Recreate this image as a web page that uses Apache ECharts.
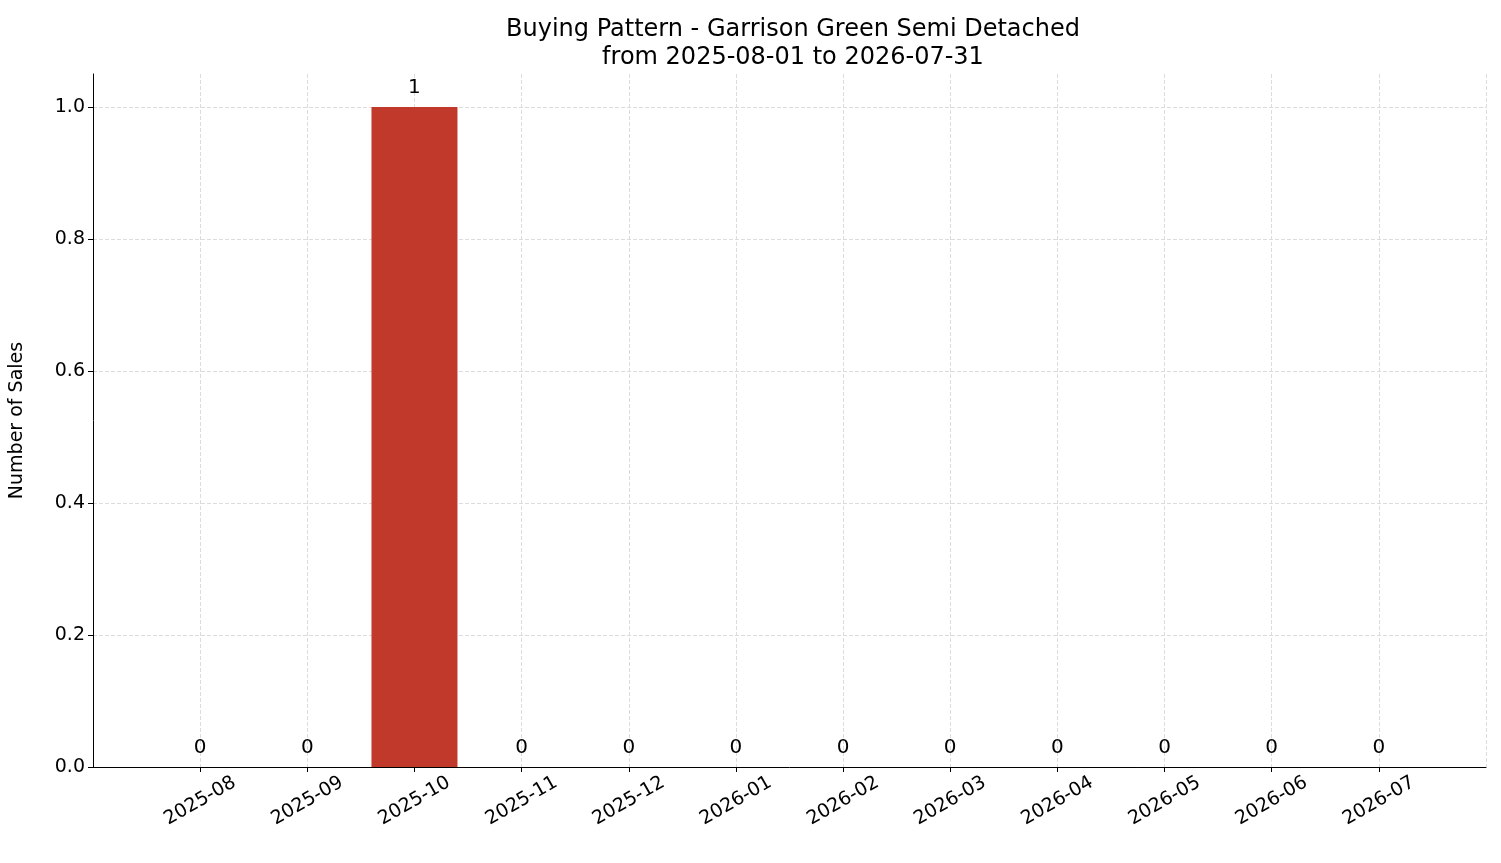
<!DOCTYPE html>
<html><head><meta charset="utf-8">
<script src="https://cdn.jsdelivr.net/npm/echarts@6/dist/echarts.min.js"></script>
<style>html,body{margin:0;padding:0;background:#fff}#c{width:1501px;height:863px}</style>
</head><body><div id="c"></div>
<script>
const categories = ['2025-08','2025-09','2025-10','2025-11','2025-12','2026-01','2026-02','2026-03','2026-04','2026-05','2026-06','2026-07'];
const sales = [0,0,1,0,0,0,0,0,0,0,0,0];
const titleText = 'Buying Pattern - Garrison Green Semi Detached\nfrom 2025-08-01 to 2026-07-31';
const font = 'DejaVu Sans';
const chart = echarts.init(document.getElementById('c'));
chart.setOption({
  animation:false,
  title:{text:titleText,left:788,top:11,textAlign:'center',textStyle:{fontFamily:font,fontSize:24,fontWeight:'normal',color:'#000',lineHeight:28}},
  grid:{left:90,right:15,top:74,bottom:96},
  xAxis:{type:'value',min:-1,max:12,interval:1,
    axisLine:{onZero:false,lineStyle:{color:'#000'}},
    axisTick:{show:true,length:5,lineStyle:{color:'#000'}},
    splitLine:{show:true,lineStyle:{color:'#dcdcdc',type:[4,2]}},
    axisLabel:{rotate:30,align:'center',verticalAlign:'middle',fontFamily:font,fontSize:19,color:'#000',margin:34,showMinLabel:false,showMaxLabel:false,
      formatter:v=>categories[v]||''}},
  yAxis:{type:'value',min:0,max:1.05,interval:0.2,name:'Number of Sales',nameLocation:'middle',nameGap:66,
    nameTextStyle:{fontFamily:font,fontSize:19,color:'#000'},
    axisLine:{show:true,onZero:false,lineStyle:{color:'#000'}},
    axisTick:{show:true,length:5,lineStyle:{color:'#000'}},
    splitLine:{show:true,lineStyle:{color:['#dcdcdc','#dcdcdc','#dcdcdc','#dcdcdc','#dcdcdc','#dcdcdc','rgba(0,0,0,0)'],type:[4,2]}},
    axisLabel:{fontFamily:font,fontSize:19,color:'#000',margin:8,showMaxLabel:false,formatter:v=>v.toFixed(1)}},
  series:[{type:'bar',barWidth:86,itemStyle:{color:'#c0392b'},
    data:sales.map((v,i)=>[i,v]),
    label:{show:true,position:'top',distance:9,fontFamily:font,fontSize:20,color:'#000',formatter:p=>p.value[1]}}]
});
</script></body></html>
